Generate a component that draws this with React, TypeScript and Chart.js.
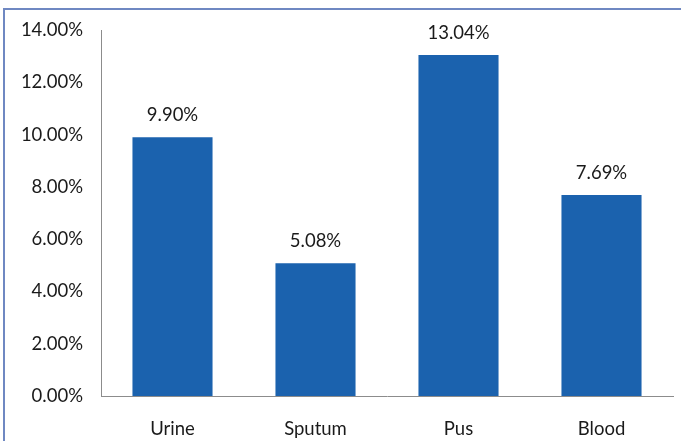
import React, { useEffect, useRef } from "react";
import { Chart, registerables } from "chart.js";

Chart.register(...registerables);

const categories = ["Urine", "Sputum", "Pus", "Blood"];
const values = [9.9, 5.08, 13.04, 7.69];
const valueLabels = ["9.90%", "5.08%", "13.04%", "7.69%"];
const yMin = 0;
const yMax = 14;
const yStep = 2;

const FONT = "Lato, 'Liberation Sans', sans-serif";

const framePlugin = {
  id: "frame",
  afterDraw(chart: any) {
    const ctx = chart.ctx;
    ctx.save();
    ctx.fillStyle = "#6f88c2";
    ctx.fillRect(3, 8, chart.width, 2);
    ctx.fillRect(3, 8, 2, chart.height);
    ctx.restore();
  },
};

const labelPlugin = {
  id: "valueLabels",
  afterDatasetsDraw(chart: any) {
    const ctx = chart.ctx;
    const meta = chart.getDatasetMeta(0);
    ctx.save();
    ctx.fillStyle = "#1a1a1a";
    ctx.font = `18.5px ${FONT}`;
    ctx.textAlign = "center";
    ctx.textBaseline = "middle";
    meta.data.forEach((bar: any, i: number) => {
      ctx.fillText(valueLabels[i], bar.x, bar.y - 22);
    });
    ctx.restore();
  },
};

export default function App() {
  const ref = useRef<HTMLCanvasElement>(null);
  useEffect(() => {
    if (!ref.current) return;
    const chart = new Chart(ref.current, {
      type: "bar",
      data: {
        labels: categories,
        datasets: [
          {
            data: values,
            backgroundColor: "#1b62ae",
            barPercentage: 0.56,
            categoryPercentage: 1,
          },
        ],
      },
      options: {
        animation: false,
        responsive: false,
        layout: { padding: { top: 30, right: 8, left: 0, bottom: 0 } },
        plugins: { legend: { display: false }, tooltip: { enabled: false } },
        scales: {
          x: {
            grid: { display: false, drawTicks: false },
            border: { display: true, color: "#8c8c8c", width: 1 },
            ticks: { color: "#1a1a1a", font: { size: 18.5, family: FONT }, padding: 22 },
            afterFit(scale: any) {
              scale.height = 45;
            },
          },
          y: {
            min: yMin,
            max: yMax,
            grid: { display: false, drawTicks: false },
            border: { display: true, color: "#8c8c8c", width: 1 },
            ticks: {
              stepSize: yStep,
              color: "#1a1a1a",
              font: { size: 18.5, family: FONT },
              padding: 18,
              callback: (v: any) => Number(v).toFixed(2) + "%",
            },
            afterFit(scale: any) {
              scale.width = 101;
            },
          },
        },
      },
      plugins: [labelPlugin, framePlugin],
    });
    return () => chart.destroy();
  }, []);
  return (
    <div style={{ position: "fixed", left: 0, top: 0, width: 681, height: 441, background: "#fff" }}>
      <canvas ref={ref} width={681} height={441} style={{ display: "block" }} />
    </div>
  );
}
